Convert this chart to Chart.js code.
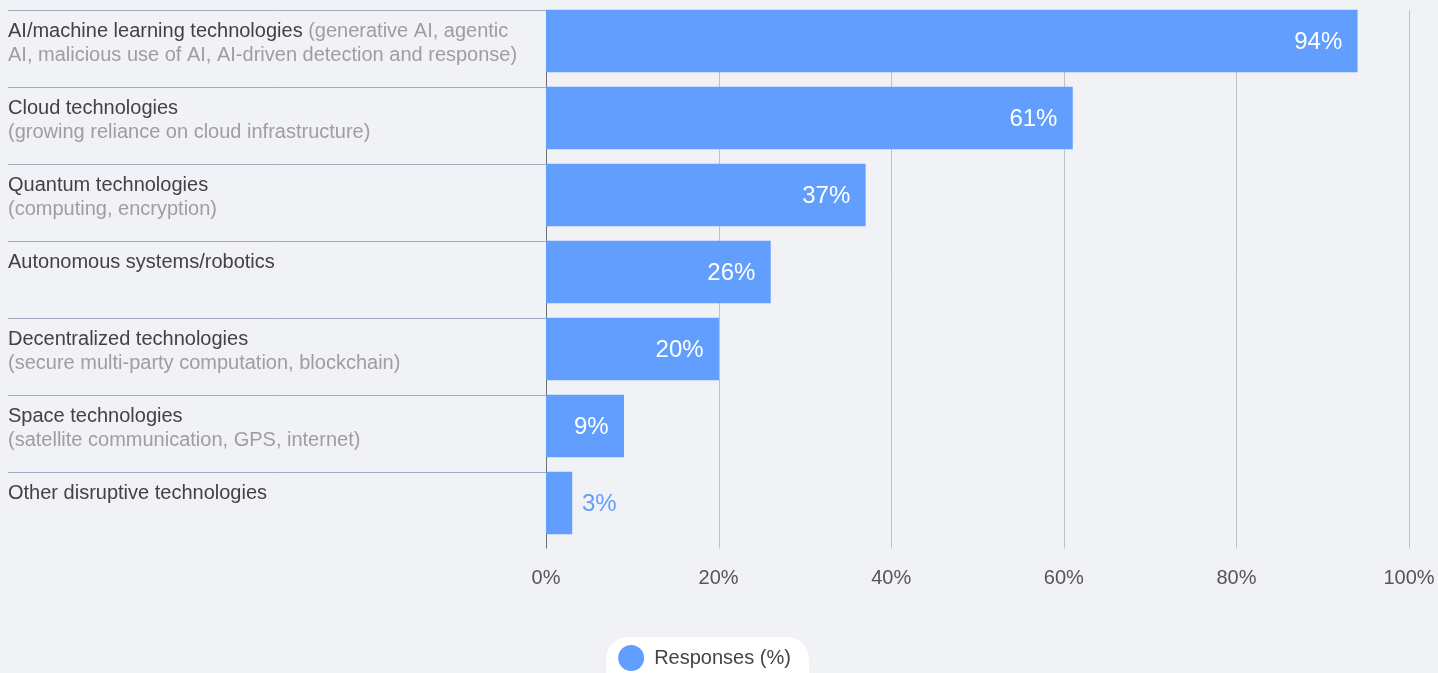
<!DOCTYPE html>
<html>
<head>
<meta charset="utf-8">
<script src="https://cdn.jsdelivr.net/npm/chart.js@4/dist/chart.umd.min.js"></script>
<style>
  html, body { margin: 0; padding: 0; background: #f1f2f6; overflow: hidden; }
  #wrap { width: 1438px; height: 673px; }
</style>
</head>
<body>
<div id="wrap"><canvas id="chart"></canvas></div>
<script>
const categories = [
  "AI/machine learning technologies",
  "Cloud technologies",
  "Quantum technologies",
  "Autonomous systems/robotics",
  "Decentralized technologies",
  "Space technologies",
  "Other disruptive technologies",
];
// grey detail text; "\n" starts a new line
const notes = [
  " (generative AI, agentic\nAI, malicious use of AI, AI-driven detection and response)",
  "\n(growing reliance on cloud infrastructure)",
  "\n(computing, encryption)",
  "",
  "\n(secure multi-party computation, blockchain)",
  "\n(satellite communication, GPS, internet)",
  "",
];
const responses = [94, 61, 37, 26, 20, 9, 3];
const xTicks = [0, 20, 40, 60, 80, 100];

const FONT = "'Liberation Sans', Arial, sans-serif";
const BLUE = "#619efe";

// left labels, row separators, vertical grid lines
const rowsPlugin = {
  id: "rows",
  beforeDatasetsDraw(chart) {
    const ctx = chart.ctx;
    const x = chart.scales.x;
    const bars = chart.getDatasetMeta(0).data;
    const top = bars[0].y - bars[0].height / 2;
    const bottom = chart.chartArea.bottom + 7;
    ctx.save();
    ctx.lineWidth = 1;
    ctx.strokeStyle = "#bcc2cc";
    xTicks.slice(1).forEach(v => {
      const px = Math.round(x.getPixelForValue(v)) + 0.5;
      ctx.beginPath(); ctx.moveTo(px, top); ctx.lineTo(px, bottom); ctx.stroke();
    });
    // axis line at 0
    const x0 = Math.round(x.getPixelForValue(0)) + 0.5;
    ctx.strokeStyle = "#6b6e75";
    ctx.beginPath(); ctx.moveTo(x0, top); ctx.lineTo(x0, bottom); ctx.stroke();

    ctx.font = "20px " + FONT;
    ctx.textBaseline = "middle";
    bars.forEach((bar, i) => {
      const y = Math.round(bar.y - bar.height / 2) + 0.5;
      ctx.strokeStyle = "#a1abc0";
      ctx.beginPath(); ctx.moveTo(8, y); ctx.lineTo(x0, y); ctx.stroke();
      let ly = y + 21;
      ctx.fillStyle = "#424245";
      ctx.fillText(categories[i], 8, ly);
      let lx = 8 + ctx.measureText(categories[i]).width;
      ctx.fillStyle = "#9e9ea2";
      notes[i].split("\n").forEach((part, k) => {
        if (k > 0) { ly += 24; lx = 8; }
        if (part) ctx.fillText(part, lx, ly);
      });
    });
    ctx.restore();
  },
};

// value labels on bars
const valuesPlugin = {
  id: "values",
  afterDatasetsDraw(chart) {
    const ctx = chart.ctx;
    ctx.save();
    ctx.font = "24px " + FONT;
    ctx.textBaseline = "middle";
    chart.getDatasetMeta(0).data.forEach((bar, i) => {
      const txt = responses[i] + "%";
      const w = bar.x - bar.base;
      if (w > 60) {
        ctx.fillStyle = "#ffffff";
        ctx.textAlign = "right";
        ctx.fillText(txt, bar.x - 15, bar.y + 1);
      } else {
        ctx.fillStyle = BLUE;
        ctx.textAlign = "left";
        ctx.fillText(txt, bar.x + 10, bar.y + 1);
      }
    });
    ctx.restore();
  },
};

// white pill behind the legend
const legendPill = {
  id: "legendPill",
  beforeDraw(chart) {
    const lg = chart.legend;
    if (!lg || !lg.legendHitBoxes.length) return;
    const b = lg.legendHitBoxes[0];
    const cy = b.top + b.height / 2;
    const ctx = chart.ctx;
    ctx.save();
    ctx.fillStyle = "#ffffff";
    ctx.beginPath();
    ctx.roundRect(b.left - 12, cy - 21, b.width + 30, 60, 22);
    ctx.fill();
    ctx.restore();
  },
};

new Chart(document.getElementById("chart"), {
  type: "bar",
  data: {
    labels: categories,
    datasets: [{
      label: "Responses (%)",
      data: responses,
      backgroundColor: BLUE,
      borderWidth: 0,
      barThickness: 62,
    }],
  },
  options: {
    indexAxis: "y",
    responsive: true,
    maintainAspectRatio: false,
    animation: false,
    layout: { padding: { top: 2.5, right: 29, bottom: -5, left: 0 } },
    scales: {
      x: {
        min: 0,
        max: 100,
        afterBuildTicks: s => { s.ticks = xTicks.map(v => ({ value: v })); },
        afterFit: s => { s.height = 100.5; s.paddingLeft = 0; s.paddingRight = 0; },
        grid: { display: false, drawTicks: false },
        border: { display: false },
        ticks: {
          padding: 24.5,
          color: "#555558",
          font: { family: FONT, size: 20 },
          callback: v => v + "%",
        },
      },
      y: {
        afterFit: s => { s.width = 546; },
        grid: { display: false, drawTicks: false },
        border: { display: false },
        ticks: { display: false },
      },
    },
    plugins: {
      legend: {
        position: "bottom",
        labels: {
          usePointStyle: true,
          pointStyle: "circle",
          pointStyleWidth: 26,
          boxHeight: 18.4,
          padding: 6,
          color: "#444446",
          font: { family: FONT, size: 20 },
        },
      },
      tooltip: { enabled: false },
    },
  },
  plugins: [rowsPlugin, valuesPlugin, legendPill],
});
</script>
</body>
</html>
